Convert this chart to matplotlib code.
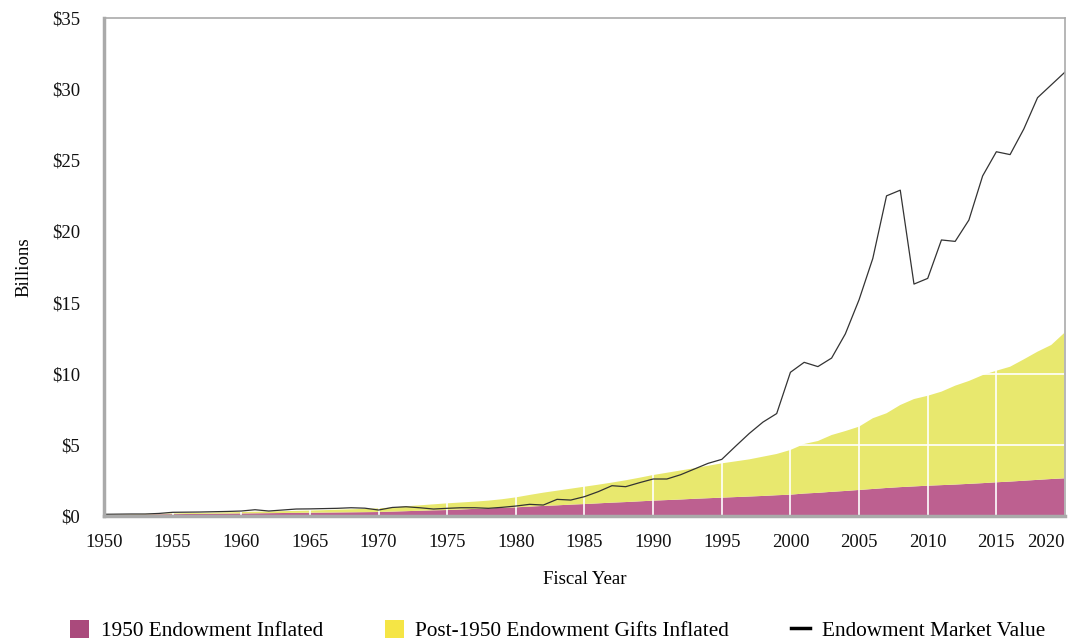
import numpy as np
import matplotlib.pyplot as plt
from matplotlib.patches import Patch
from matplotlib.lines import Line2D

plt.rcParams['font.family'] = ['Liberation Serif', 'DejaVu Serif']

years = np.arange(1950, 2021)

# 1950 endowment, inflated ($B)
base_1950 = [0.08, 0.09, 0.10, 0.11, 0.12, 0.13, 0.14, 0.15, 0.16, 0.17,
             0.18, 0.19, 0.20, 0.21, 0.22, 0.23, 0.24, 0.25, 0.26, 0.27,
             0.28, 0.31, 0.34, 0.37, 0.40, 0.42, 0.46, 0.50, 0.54, 0.58,
             0.61, 0.66, 0.71, 0.75, 0.80, 0.84, 0.89, 0.94, 0.98, 1.03,
             1.08, 1.12, 1.16, 1.21, 1.25, 1.29, 1.33, 1.37, 1.41, 1.46,
             1.50, 1.58, 1.63, 1.70, 1.76, 1.83, 1.90, 1.97, 2.03, 2.08,
             2.13, 2.17, 2.21, 2.26, 2.31, 2.37, 2.42, 2.48, 2.54, 2.60, 2.65]

# post-1950 gifts, inflated ($B)
gifts = [0.02, 0.02, 0.03, 0.04, 0.04, 0.05, 0.06, 0.07, 0.08, 0.09,
         0.10, 0.11, 0.12, 0.13, 0.14, 0.15, 0.17, 0.19, 0.21, 0.23,
         0.26, 0.29, 0.34, 0.38, 0.42, 0.47, 0.49, 0.51, 0.54, 0.60,
         0.70, 0.82, 0.93, 1.03, 1.12, 1.22, 1.31, 1.41, 1.53, 1.66,
         1.80, 1.92, 2.04, 2.15, 2.28, 2.41, 2.51, 2.61, 2.76, 2.90,
         3.14, 3.48, 3.64, 3.99, 4.21, 4.45, 4.97, 5.25, 5.77, 6.14,
         6.32, 6.57, 6.95, 7.23, 7.59, 7.84, 8.07, 8.53, 9.01, 9.42, 10.26]

# endowment market value ($B)
market = [0.12, 0.13, 0.14, 0.14, 0.18, 0.26, 0.27, 0.28, 0.30, 0.32,
          0.35, 0.44, 0.35, 0.42, 0.49, 0.50, 0.52, 0.54, 0.58, 0.55,
          0.42, 0.60, 0.65, 0.58, 0.49, 0.54, 0.58, 0.58, 0.54, 0.61,
          0.70, 0.82, 0.77, 1.17, 1.12, 1.36, 1.71, 2.13, 2.06, 2.34,
          2.60, 2.60, 2.90, 3.30, 3.70, 3.98, 4.90, 5.80, 6.60, 7.20,
          10.10, 10.80, 10.50, 11.10, 12.80, 15.20, 18.10, 22.50, 22.90, 16.30,
          16.70, 19.40, 19.30, 20.80, 23.90, 25.60, 25.40, 27.20, 29.40, 30.30, 31.20]

labels = ['1950 Endowment Inflated', 'Post-1950 Endowment Gifts Inflated',
          'Endowment Market Value']

purple_area, yellow_area = '#bd6090', '#e8e86e'
purple_key, yellow_key = '#aa4a7c', '#f5e545'
spine_col = '#aaaaaa'

fig = plt.figure(figsize=(10.7, 6.42), dpi=100)
ax = fig.add_axes([104 / 1070, 1 - 516 / 642, 961 / 1070, 498 / 642])

ax.stackplot(years, base_1950, gifts, colors=[purple_area, yellow_area],
             linewidth=0, zorder=1)
ax.plot(years, market, color='#333333', lw=0.9, zorder=3)

ax.set_xlim(1950, 2020)
ax.set_ylim(0, 35)
ax.set_xticks(np.arange(1950, 2021, 5))
ax.set_yticks(np.arange(0, 36, 5))
ax.set_yticklabels(['$%d' % v for v in range(0, 36, 5)])
ax.grid(True, color='white', lw=1.2, zorder=2)
ax.set_axisbelow(False)
ax.tick_params(length=0, labelsize=13.5, colors='#111111')
ax.tick_params(axis='x', pad=13)
ax.tick_params(axis='y', pad=17)
xl = ax.get_xticklabels()
xl[-1].set_horizontalalignment('right')
xl[-1].set_x(2020)

for side in ['top', 'right']:
    ax.spines[side].set_color(spine_col)
    ax.spines[side].set_linewidth(1.2)
for side in ['left', 'bottom']:
    ax.spines[side].set_color(spine_col)
    ax.spines[side].set_linewidth(2.5)
for s in ax.spines.values():
    s.set_zorder(4)

ax.set_xlabel('Fiscal Year', fontsize=13.5, labelpad=14)
ax.set_ylabel('Billions', fontsize=13.5, labelpad=14)

handles = [Patch(facecolor=purple_key, edgecolor='none'),
           Patch(facecolor=yellow_key, edgecolor='none'),
           Line2D([], [], color='black', lw=2.5)]
fig.legend(handles, labels, loc='center', bbox_to_anchor=(0.521, 0.018),
           ncol=3, frameon=False, fontsize=15.3, handlelength=0.9,
           handleheight=0.9, columnspacing=2.9, handletextpad=0.55)

fig.savefig('out.png', dpi=100)
